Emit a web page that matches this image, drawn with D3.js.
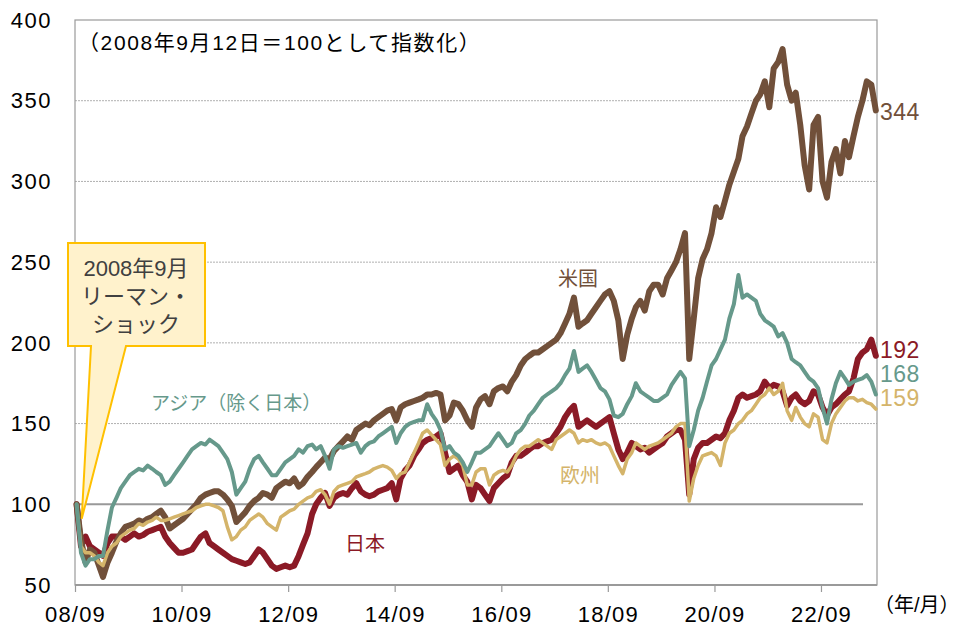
<!DOCTYPE html>
<html>
<head>
<meta charset="utf-8">
<script src="https://cdn.jsdelivr.net/npm/d3@7"></script>
<style>
  body { margin: 0; background: #fff; }
  text { font-family: "Liberation Sans", Arial, "Noto Sans CJK JP", sans-serif; }
</style>
</head>
<body>
<div class="chart"></div>
<script>
var w = 963,
  h = 626,
  margin = { left: 75, right: 877, top: 20, bottom: 585 };

// monthly readings, first value = 2008/09/12 (=100)
var startDate = new Date(2008, 8, 12);

var usValues = [
  100, 78, 64, 72, 70, 62, 55, 64, 70, 77, 82, 86,
  87, 88, 90, 89, 91, 92, 94, 96, 92, 85, 87, 89,
  91, 94, 97, 100, 104, 106, 107, 108, 108, 106, 103, 99,
  89, 92, 95, 99, 102, 104, 107, 106, 104, 110, 112, 114,
  113, 116, 111, 113, 117, 120, 123, 126, 129, 128, 133, 136,
  139, 142, 140, 146, 148, 150, 149, 152, 154, 156, 158, 159,
  152, 160, 162, 163, 164, 165, 166, 168, 168, 169, 168, 152,
  155, 163, 162, 158, 152, 148, 160, 165, 167, 162, 170, 172,
  173, 170, 176, 180, 186, 190, 192, 194, 194, 196, 198, 200,
  202, 206, 212, 218, 228, 210, 212, 214, 218, 222, 226, 230,
  232, 226, 214, 190, 205, 215, 222, 226, 220, 232, 236, 236,
  230, 240, 245, 250, 258, 268, 190, 215, 240, 252, 258, 268,
  284, 278, 288, 298, 306, 314, 328, 334, 342, 350, 354, 362,
  346, 370, 374, 382, 360, 350, 355, 335, 310, 295, 335, 340,
  300, 290, 312, 320, 305, 325, 315, 328, 340, 350, 362, 360,
  344
];

var japanValues = [
  100, 74, 80, 74, 72, 70, 68, 76, 80, 80, 80, 78,
  80, 82, 80, 81, 83, 84, 85, 86, 80, 76, 73, 70,
  70, 71, 72, 76, 80, 82, 76, 74, 72, 70, 68, 66,
  65, 64, 63, 64, 68, 72, 70, 66, 62, 60, 61, 62,
  61, 62, 68, 75, 82, 94, 100, 104, 107, 99, 104, 106,
  107, 106, 110, 113, 108, 106, 105, 106, 108, 109, 110, 113,
  103, 116, 121, 124, 130, 134, 138, 140, 141, 142, 144, 132,
  120, 122, 124, 118, 114, 103, 112, 110, 106, 102, 110, 113,
  116, 118, 126, 130, 130, 132, 134, 136, 136, 138, 139, 140,
  144, 148, 154, 158, 161, 148, 150, 152, 150, 148, 150, 152,
  154, 144, 134, 128, 132, 138, 136, 134, 135, 132, 134, 136,
  138, 142, 144, 146, 146, 140, 106, 128, 135, 138, 138, 140,
  142, 141, 144, 152, 158, 166, 168, 166, 167, 168, 170, 176,
  172, 174, 173, 170, 161, 166, 168, 164, 162, 164, 170, 168,
  160, 155, 160, 162, 165, 168, 170, 178, 190, 194, 196, 202,
  192
];

var asiaValues = [
  100, 70, 62, 66, 66, 68, 68, 84, 98, 104, 110, 114,
  118, 120, 122, 121, 124, 122, 120, 118, 112, 114, 118, 122,
  126, 130, 134, 136, 138, 137, 140, 138, 136, 132, 128, 120,
  106, 110, 114, 122, 128, 130, 126, 122, 118, 118, 122, 126,
  128, 130, 134, 132, 136, 137, 134, 136, 130, 122, 134, 136,
  135, 136, 137, 138, 132, 136, 138, 139, 142, 144, 146, 148,
  138, 144, 148, 150, 151, 152, 152, 162, 156, 152, 146, 134,
  136, 132, 130, 126, 120, 126, 132, 132, 134, 136, 140, 144,
  140, 136, 138, 144, 146, 150, 155, 158, 162, 166, 168, 170,
  172, 175, 180, 184, 195, 182, 184, 186, 182, 177, 172, 170,
  165, 155, 154, 156, 162, 167, 175, 170, 168, 166, 164, 164,
  166, 168, 174, 178, 182, 178, 136, 146, 158, 166, 176, 186,
  190, 196, 202, 215, 224, 242, 228, 230, 228, 226, 218, 214,
  212, 210, 204, 206, 200, 190, 188, 186, 182, 178, 176, 172,
  160, 150, 165, 175, 182, 178, 174, 176, 177, 178, 180, 176,
  168
];

var europeValues = [
  100, 74, 70, 70, 68, 64, 62, 70, 74, 76, 80, 82,
  84, 85, 88, 87, 89, 90, 92, 90, 90, 91, 92, 93,
  94, 95, 96, 98, 99, 100, 100, 99, 98, 96, 86, 78,
  80, 84, 86, 90, 92, 94, 92, 88, 86, 84, 92, 94,
  96, 97, 100, 102, 104, 105, 108, 109, 106, 100, 108, 111,
  112, 113, 114, 117, 118, 119, 120, 122, 123, 124, 123, 121,
  116, 119, 120, 126, 132, 138, 144, 146, 143, 140, 137, 124,
  128, 130, 128, 124, 112, 112, 120, 122, 122, 112, 118, 120,
  121, 120, 124, 130, 134, 136, 136, 138, 140, 138, 136, 134,
  140, 142, 144, 146, 144, 138, 140, 139, 140, 138, 137, 138,
  136, 130, 124, 119, 128, 132, 138, 136, 134, 136, 137, 138,
  140, 142, 144, 148, 150, 150, 102, 116, 124, 130, 131, 132,
  130, 124, 138, 144, 146, 150, 152, 156, 158, 162, 166, 168,
  172, 168, 170, 175, 158, 152, 160, 154, 150, 148, 156, 154,
  140, 138, 150, 156, 160, 164, 166, 166, 164, 165, 163, 162,
  159
];

var yTicks = [50, 100, 150, 200, 250, 300, 350, 400];
var gridTicks = [150, 200, 250, 300, 350];
var xTickLabels = ['08/09', '10/09', '12/09', '14/09', '16/09', '18/09', '20/09', '22/09'];

var series = [
  { name: '日本', values: japanValues, color: '#8b1a26', width: 6, last: '192', lx: 345, ly: 551, ey: 358 },
  { name: '米国', values: usValues, color: '#71503a', width: 6, last: '344', lx: 558, ly: 286, ey: 120 },
  { name: '欧州', values: europeValues, color: '#d4b46a', width: 3.5, last: '159', lx: 560, ly: 483, ey: 406 },
  { name: 'アジア（除く日本）', values: asiaValues, color: '#66998b', width: 4, last: '168', lx: 151, ly: 410, ey: 382 }
];

var parseTick = d3.timeParse('%y/%m');

var x = d3.scaleTime()
  .domain([new Date(2008, 8, 1), new Date(2023, 8, 20)])
  .range([margin.left, margin.right]);

var y = d3.scaleLinear()
  .domain([50, 400])
  .range([margin.bottom, margin.top]);

var svg = d3.select('.chart')
  .append('svg')
  .attr('width', w)
  .attr('height', h);

// dashed grid
svg.selectAll('line.grid')
  .data(gridTicks)
  .enter()
  .append('line')
  .attr('class', 'grid')
  .attr('x1', margin.left)
  .attr('x2', margin.right)
  .attr('y1', function (d) { return y(d); })
  .attr('y2', function (d) { return y(d); })
  .attr('stroke', '#b0b0b0')
  .attr('stroke-width', 1)
  .attr('stroke-dasharray', '2,1');

// plot border
svg.append('rect')
  .attr('x', margin.left)
  .attr('y', margin.top)
  .attr('width', margin.right - margin.left)
  .attr('height', margin.bottom - margin.top)
  .attr('fill', 'none')
  .attr('stroke', '#9a9a9a')
  .attr('stroke-width', 1.2);

svg.append('line')
  .attr('x1', margin.left)
  .attr('x2', margin.right)
  .attr('y1', margin.bottom)
  .attr('y2', margin.bottom)
  .attr('stroke', '#9a9a9a')
  .attr('stroke-width', 2);

// base line at 100
svg.append('line')
  .attr('x1', margin.left)
  .attr('x2', 863)
  .attr('y1', y(100))
  .attr('y2', y(100))
  .attr('stroke', '#999')
  .attr('stroke-width', 2);

// y axis labels
svg.selectAll('text.ylab')
  .data(yTicks)
  .enter()
  .append('text')
  .attr('class', 'ylab')
  .attr('x', 52)
  .attr('y', function (d) { return y(d); })
  .attr('dy', '0.35em')
  .attr('text-anchor', 'end')
  .attr('font-size', 22)
  .attr('letter-spacing', 1.5)
  .attr('fill', '#000')
  .text(function (d) { return d; });

// x ticks + labels
var xAxis = d3.axisBottom(x)
  .tickValues(xTickLabels.map(parseTick))
  .tickFormat(d3.timeFormat('%y/%m'))
  .tickSize(7)
  .tickPadding(14);

var gx = svg.append('g')
  .attr('transform', 'translate(0,' + margin.bottom + ')')
  .call(xAxis);
gx.select('.domain').remove();
gx.selectAll('line').attr('stroke', '#9a9a9a').attr('stroke-width', 1.2);
gx.selectAll('text')
  .attr('font-size', 22)
  .attr('letter-spacing', 1.2)
  .attr('fill', '#000')
  .style('font-family', '"Liberation Sans", Arial, sans-serif');

// lines
var line = d3.line()
  .x(function (d, i) { return x(d3.timeMonth.offset(startDate, i)); })
  .y(function (d) { return y(d); });

svg.selectAll('path.series')
  .data(series)
  .enter()
  .append('path')
  .attr('class', 'series')
  .attr('d', function (d) { return line(d.values); })
  .attr('fill', 'none')
  .attr('stroke', function (d) { return d.color; })
  .attr('stroke-width', function (d) { return d.width; })
  .attr('stroke-linejoin', 'round')
  .attr('stroke-linecap', 'round');

// series names
svg.selectAll('text.name')
  .data(series)
  .enter()
  .append('text')
  .attr('class', 'name')
  .attr('x', function (d) { return d.lx; })
  .attr('y', function (d) { return d.ly; })
  .attr('font-size', function (d) { return d.name.length > 2 ? 19 : 20; })
  .attr('fill', function (d) { return d.color; })
  .text(function (d) { return d.name; });

// last values
svg.selectAll('text.last')
  .data(series)
  .enter()
  .append('text')
  .attr('class', 'last')
  .attr('x', 880)
  .attr('y', function (d) { return d.ey; })
  .attr('font-size', 23)
  .attr('letter-spacing', 0.5)
  .attr('fill', function (d) { return d.color; })
  .text(function (d) { return d.last; });

svg.append('text')
  .attr('x', 78)
  .attr('y', 50)
  .attr('font-size', 21)
  .attr('letter-spacing', 1.6)
  .attr('fill', '#000')
  .text('（2008年9月12日＝100として指数化）');

svg.append('text')
  .attr('x', 874)
  .attr('y', 612)
  .attr('font-size', 20)
  .attr('fill', '#000')
  .text('（年/月）');

// callout pointing at the Lehman shock low
var tip = [x(new Date(2008, 9, 17)), y(91)];
svg.append('path')
  .attr('d', 'M68,243 H205 V346 H126 L' + tip[0] + ',' + tip[1] + ' L91,346 H68 Z')
  .attr('fill', '#fff2cc')
  .attr('stroke', '#ffc000')
  .attr('stroke-width', 2)
  .attr('stroke-linejoin', 'miter');

svg.selectAll('text.callout')
  .data(['2008年9月', 'リーマン・', 'ショック'])
  .enter()
  .append('text')
  .attr('class', 'callout')
  .attr('x', 136)
  .attr('y', function (d, i) { return 276 + i * 28; })
  .attr('text-anchor', 'middle')
  .attr('font-size', 22)
  .attr('fill', '#404040')
  .text(function (d) { return d; });
</script>
</body>
</html>
